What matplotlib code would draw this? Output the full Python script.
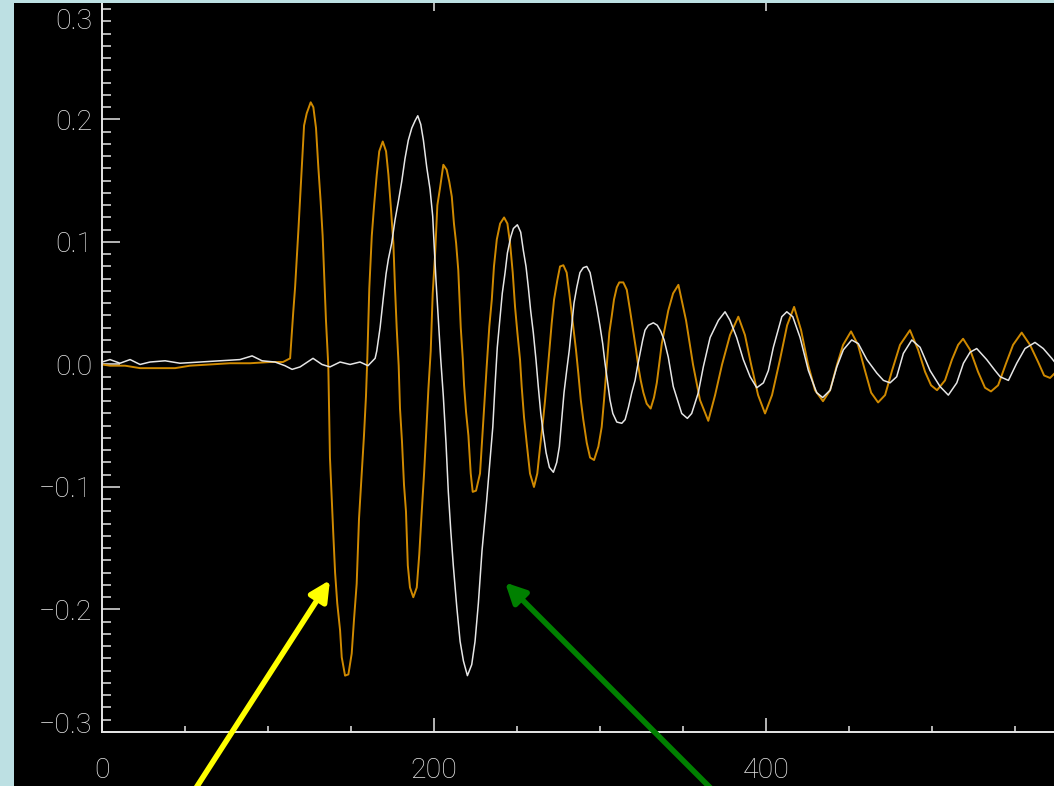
import numpy as np
from matplotlib import pyplot as plt
from matplotlib.patches import Rectangle
from matplotlib.ticker import MultipleLocator

# orange trace
orange_x = [0, 4.8, 13.9, 22.9, 34.9, 44.0, 53.0, 65.1, 77.1, 89.2, 101.2, 109.0, 113.3, 115.2, 116.3,
            118.3, 120.3, 121.7, 123.3, 125.7, 127.3, 128.9, 130.3, 131.7, 132.9, 133.9, 134.9, 136.3,
            137.3, 138.4, 139.3, 140.4, 141.7, 143.4, 144.4, 146.4, 148.4, 150.4, 151.8, 153.4, 154.8,
            156.4, 157.8, 159.0, 159.8, 161.0, 162.5, 163.9, 165.5, 167.0, 169.1, 171.1, 172.5, 173.9,
            175.5, 176.5, 177.5, 178.7, 179.5, 180.7, 181.9, 183.1, 184.2, 185.5, 187.5, 189.6, 191.1,
            192.6, 194.0, 195.2, 196.6, 198.0, 199.2, 200.6, 202.0, 203.6, 205.6, 207.6, 209.2, 210.7,
            212.0, 213.3, 214.6, 216.1, 217.3, 218.1, 219.3, 220.7, 222.1, 223.3, 225.3, 227.7, 229.7,
            231.7, 233.3, 234.8, 236.1, 237.8, 239.8, 242.2, 244.2, 245.8, 247.4, 248.8, 250.2, 251.8,
            252.8, 254.2, 255.8, 257.8, 260.2, 262.2, 263.9, 265.5, 266.9, 268.3, 269.5, 270.9, 272.3,
            274.3, 275.9, 277.9, 279.9, 281.5, 282.9, 284.3, 285.5, 286.9, 288.4, 289.9, 292.0, 294.0,
            296.4, 299.0, 301.0, 302.4, 304.0, 305.6, 307.0, 308.4, 310.1, 311.6, 314.0, 316.1, 318.1,
            320.1, 321.7, 323.1, 324.5, 326.1, 328.1, 330.5, 332.5, 334.2, 335.7, 337.2, 339.2, 341.1,
            344.0, 347.2, 351.8, 356.0, 360.2, 365.2, 369.3, 373.5, 378.3, 383.3, 387.3, 391.0, 395.2,
            399.4, 403.6, 408.4, 412.7, 416.9, 421.1, 425.3, 429.5, 434.3, 438.6, 442.8, 446.4, 451.2,
            455.4, 459.6, 463.3, 467.5, 471.7, 475.9, 480.7, 486.7, 491.6, 495.8, 499.4, 503.0, 507.8,
            512.0, 515.7, 518.7, 522.9, 527.7, 531.9, 535.5, 539.8, 544.6, 548.8, 554.0, 559.0, 563.9,
            567.5, 571.1, 574.7]
orange_y = [0.0, -0.001, -0.001, -0.003, -0.003, -0.003, -0.001, 0.0, 0.001, 0.001, 0.002, 0.002, 0.005,
            0.043, 0.063, 0.110, 0.161, 0.195, 0.205, 0.214, 0.210, 0.193, 0.161, 0.133, 0.105, 0.071,
            0.036, -0.001, -0.076, -0.111, -0.138, -0.170, -0.195, -0.217, -0.239, -0.254, -0.253, -0.236,
            -0.208, -0.179, -0.126, -0.089, -0.058, -0.026, 0.005, 0.062, 0.105, 0.130, 0.155, 0.174,
            0.182, 0.174, 0.155, 0.130, 0.099, 0.062, 0.030, -0.001, -0.036, -0.063, -0.098, -0.120,
            -0.164, -0.182, -0.190, -0.182, -0.155, -0.120, -0.089, -0.058, -0.020, 0.011, 0.058, 0.089,
            0.130, 0.144, 0.163, 0.159, 0.149, 0.137, 0.115, 0.099, 0.077, 0.030, 0.005, -0.017, -0.039,
            -0.058, -0.089, -0.104, -0.103, -0.089, -0.045, -0.002, 0.031, 0.053, 0.080, 0.102, 0.115,
            0.120, 0.115, 0.099, 0.075, 0.047, 0.026, 0.004, -0.018, -0.043, -0.064, -0.089, -0.100,
            -0.089, -0.067, -0.048, -0.029, -0.007, 0.012, 0.034, 0.053, 0.069, 0.080, 0.081, 0.075,
            0.058, 0.042, 0.026, 0.012, -0.007, -0.029, -0.045, -0.064, -0.076, -0.078, -0.067, -0.051,
            -0.029, -0.002, 0.026, 0.039, 0.053, 0.063, 0.067, 0.067, 0.061, 0.044, 0.026, 0.012, -0.002,
            -0.013, -0.023, -0.032, -0.036, -0.027, -0.015, 0.001, 0.017, 0.031, 0.044, 0.058, 0.065,
            0.036, 0.0, -0.029, -0.046, -0.025, 0.0, 0.024, 0.039, 0.024, 0.0, -0.025, -0.040, -0.025,
            0.004, 0.032, 0.047, 0.028, 0.0, -0.021, -0.030, -0.021, 0.0, 0.016, 0.027, 0.016, -0.005,
            -0.023, -0.031, -0.025, -0.005, 0.016, 0.028, 0.012, -0.006, -0.017, -0.021, -0.013, 0.004,
            0.016, 0.021, 0.012, -0.006, -0.019, -0.022, -0.017, 0.001, 0.016, 0.026, 0.016, 0.002,
            -0.009, -0.011, -0.006]

# white trace
white_x = [0, 4.8, 10.8, 16.9, 22.9, 28.9, 38.0, 47.0, 59.0, 71.1, 83.1, 90.4, 96.4, 104.2, 110.2, 114.5,
           119.3, 127.1, 132.5, 137.3, 143.4, 149.4, 155.4, 160.2, 164.5, 165.5, 167.5, 169.5, 171.1,
           172.5, 174.5, 176.5, 178.5, 180.5, 182.5, 184.5, 186.6, 188.6, 190.2, 192.0, 193.6, 195.6,
           197.6, 199.2, 200.0, 201.2, 202.6, 204.0, 205.6, 207.2, 208.6, 210.1, 211.6, 213.7, 215.7,
           217.7, 220.1, 222.7, 224.7, 226.7, 228.9, 231.7, 233.7, 235.4, 236.7, 238.1, 239.8, 241.1,
           242.8, 244.2, 246.2, 247.8, 250.2, 252.2, 253.8, 255.4, 256.8, 258.2, 259.8, 261.4, 262.8,
           264.3, 265.8, 267.5, 269.5, 271.9, 273.9, 275.5, 276.9, 278.3, 279.9, 281.5, 282.9, 284.3,
           286.0, 287.9, 289.9, 292.0, 294.0, 296.0, 298.0, 300.0, 301.6, 303.0, 304.4, 306.0, 307.7,
           310.1, 313.1, 315.1, 317.1, 319.1, 321.1, 322.5, 324.1, 325.7, 327.1, 329.1, 332.1, 334.5,
           336.6, 338.6, 341.1, 344.1, 349.2, 352.6, 355.2, 359.2, 362.2, 366.3, 371.3, 375.3, 378.3,
           382.3, 386.3, 390.4, 394.4, 398.4, 401.4, 404.4, 409.5, 412.5, 416.1, 420.5, 425.5, 430.5,
           434.1, 438.6, 442.6, 446.6, 451.6, 455.6, 460.7, 466.7, 470.7, 474.7, 478.7, 482.7, 487.8,
           492.8, 498.8, 504.8, 509.8, 514.9, 518.9, 522.9, 526.9, 532.9, 538.0, 541.0, 546.0, 551.0,
           556.0, 562.0, 567.0, 572.1, 575.0]
white_y = [0.002, 0.004, 0.001, 0.004, 0.0, 0.002, 0.003, 0.001, 0.002, 0.003, 0.004, 0.007, 0.003, 0.002,
           -0.001, -0.004, -0.002, 0.005, 0.0, -0.002, 0.002, 0.0, 0.002, -0.001, 0.005, 0.011, 0.030,
           0.055, 0.074, 0.086, 0.099, 0.118, 0.133, 0.149, 0.168, 0.183, 0.193, 0.199, 0.203, 0.196,
           0.183, 0.161, 0.143, 0.121, 0.099, 0.068, 0.036, 0.005, -0.026, -0.064, -0.104, -0.136,
           -0.164, -0.198, -0.226, -0.242, -0.254, -0.245, -0.226, -0.195, -0.152, -0.111, -0.078,
           -0.051, -0.018, 0.014, 0.039, 0.058, 0.075, 0.091, 0.104, 0.111, 0.114, 0.108, 0.093, 0.080,
           0.063, 0.044, 0.026, 0.004, -0.018, -0.040, -0.056, -0.072, -0.084, -0.088, -0.080, -0.067,
           -0.045, -0.023, -0.005, 0.012, 0.031, 0.050, 0.063, 0.075, 0.079, 0.080, 0.075, 0.061, 0.047,
           0.031, 0.017, 0.001, -0.013, -0.029, -0.040, -0.047, -0.048, -0.045, -0.035, -0.023, -0.013,
           -0.002, 0.009, 0.020, 0.028, 0.032, 0.034, 0.032, 0.027, 0.020, 0.006, -0.018, -0.040, -0.044,
           -0.040, -0.023, -0.002, 0.022, 0.036, 0.043, 0.036, 0.022, 0.004, -0.010, -0.019, -0.015,
           -0.005, 0.014, 0.039, 0.043, 0.039, 0.022, -0.005, -0.023, -0.027, -0.021, -0.002, 0.012,
           0.020, 0.017, 0.004, -0.007, -0.013, -0.015, -0.010, 0.009, 0.020, 0.014, -0.005, -0.018,
           -0.025, -0.015, 0.001, 0.010, 0.013, 0.004, -0.005, -0.010, -0.013, 0.001, 0.013, 0.018,
           0.013, 0.005, 0.0]

# axis ticks and labels
x_ticks = [0, 200, 400, 600]
x_labels = ['0', '200', '400', '']
y_ticks = [-0.3, -0.2, -0.1, 0.0, 0.1, 0.2, 0.3]
y_labels = ['', '\u22120.2', '\u22120.1', '0.0', '0.1', '0.2', '']

# arrows: (tail, head) in data units
yellow_arrow = [(56.0, -0.347), (137.3, -0.176)]
green_arrow = [(367.5, -0.347), (242.8, -0.178)]

fg = '#e6e6e6'
plt.rcParams['font.family'] = ['Roboto', 'DejaVu Sans']
plt.rcParams['font.weight'] = 'light'

fig = plt.figure(figsize=(10.54, 7.86), dpi=100, facecolor='black')
ax = fig.add_axes([0.0968, 0.0687, 0.945, 0.9352], facecolor='black')

ax.plot(orange_x, orange_y, color='#d08a00', lw=1.4)
ax.plot(white_x, white_y, color=fg, lw=1.1)

ax.set_xlim(0, 600)
ax.set_ylim(-0.3, 0.3)
ax.set_xticks(x_ticks)
ax.set_xticklabels(x_labels)
ax.xaxis.set_minor_locator(MultipleLocator(50))
ax.set_yticks(y_ticks)
ax.set_yticklabels(y_labels)
ax.yaxis.set_minor_locator(MultipleLocator(0.01))

for s in ax.spines.values():
    s.set_color(fg)
    s.set_linewidth(1.4)
ax.tick_params(which='both', direction='in', top=True, right=True, colors=fg, width=1.1,
               labelsize=20.5, labelcolor=fg)
ax.tick_params(axis='y', which='major', length=13, pad=7)
ax.tick_params(axis='y', which='minor', length=6.5)
ax.tick_params(axis='x', which='major', length=10, pad=18)
ax.tick_params(axis='x', which='minor', length=4.5)

# end labels sit inside the axis range, like in the original
ax.annotate('0.3', xy=(0, 0.3), xytext=(-7, -18), textcoords='offset points',
            ha='right', va='center', color=fg, fontsize=20.5, annotation_clip=False)
ax.annotate('\u22120.3', xy=(0, -0.3), xytext=(-7, 5), textcoords='offset points',
            ha='right', va='center', color=fg, fontsize=20.5, annotation_clip=False)

for (tail, head), c in [(yellow_arrow, '#ffff00'), (green_arrow, '#008000')]:
    ax.annotate('', xy=head, xytext=tail, annotation_clip=False,
                arrowprops=dict(arrowstyle='-|>', color=c, lw=4, mutation_scale=30,
                                shrinkA=0, shrinkB=0))

# light blue frame strips on left and top
fig.add_artist(Rectangle((0, 0), 14 / 1054, 1, transform=fig.transFigure,
                         facecolor='#bde0e3', edgecolor='none', zorder=10))
fig.add_artist(Rectangle((0, 1 - 3 / 786), 1, 3 / 786, transform=fig.transFigure,
                         facecolor='#bde0e3', edgecolor='none', zorder=10))

plt.savefig('out.png', dpi=100, facecolor='black')
